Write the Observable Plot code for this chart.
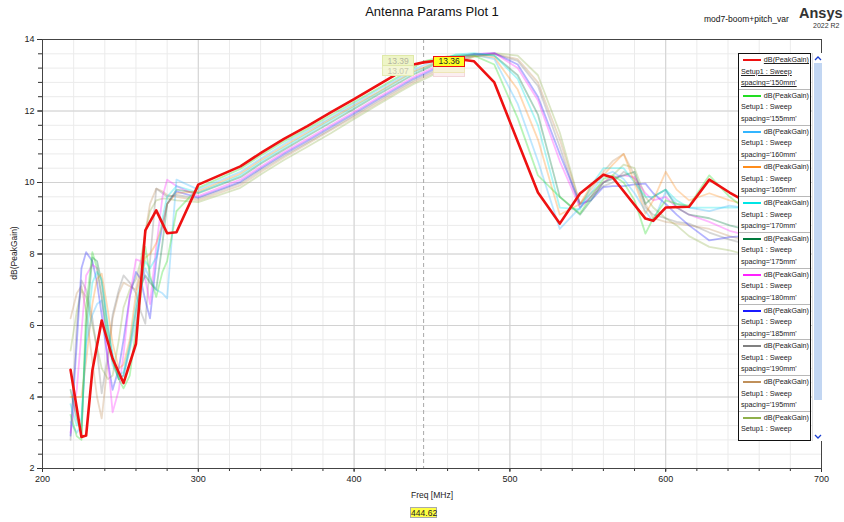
<!DOCTYPE html>
<html>
<head>
<meta charset="utf-8">
<script src="https://cdn.jsdelivr.net/npm/d3@7"></script>
<script src="https://cdn.jsdelivr.net/npm/@observablehq/plot@0.6"></script>
<style>
  html, body { margin: 0; padding: 0; background: #fff; }
  body { width: 844px; height: 522px; overflow: hidden; font-family: Arial, "Liberation Sans", sans-serif; }
  #wrap { position: relative; width: 844px; height: 522px; }
  .abs { position: absolute; white-space: nowrap; }
  #legend { position: absolute; left: 738px; top: 53px; width: 73px; height: 388px; border: 1.5px solid #111; background: #fff; overflow: hidden; box-sizing: border-box; }
  .entry { position: relative; height: 35.8px; border-bottom: 1px solid #b8b8b8; box-sizing: border-box; font-size: 7.2px; color: #222; white-space: nowrap; }
  .entry .swatch { position: absolute; left: 4px; top: 5px; width: 18px; height: 0; border-top: 2px solid; }
  .entry .l1 { position: absolute; right: 1px; top: 1px; }
  .entry .l2 { position: absolute; left: 2px; top: 12.5px; }
  .entry .l3 { position: absolute; left: 2px; top: 24px; }
  .entry.sel .l1, .entry.sel .l2, .entry.sel .l3 { text-decoration: underline; }
  .entry.last { border-bottom: none; }
  #scroll { position: absolute; left: 812px; top: 53px; width: 10px; height: 388px; background: #fff; border-left: 1px solid #ddd; box-sizing: border-box; }
  #thumb { position: absolute; left: 1px; top: 10px; width: 8px; height: 337px; background: #c2d6f2; }
  .mk { position: absolute; font-size: 8.5px; line-height: 10px; text-align: center; box-sizing: border-box; }
</style>
</head>
<body>
<div id="wrap"></div>
<script>
// Frequency points of the sweep (MHz)
const freqs = [218, 222, 225, 228, 232, 235, 238, 242, 245, 249,
               252, 256, 260, 263, 266, 269, 273, 277, 280, 286,
               300, 327, 341, 355, 370, 385, 400, 415, 430, 438,
               444.62, 455, 465, 477, 490, 505, 518, 532, 545, 552,
               560, 566, 573, 580, 587, 592, 600, 607, 615, 628,
               641, 650];

// dB(PeakGain) per boom spacing (null = no sample for that trace)
const gain150 = [4.76, null, 2.88, 2.92, 4.74, null, 6.14, null, 5.07, null,
                 4.39, null, 5.49, null, 8.66, null, 9.22, null, 8.58, 8.61,
                 9.94, 10.45, 10.85, 11.22, 11.58, 11.96, 12.33, 12.72, 13.1, 13.3,
                 13.36, 13.42, 13.46, 13.39, 12.8, null, 9.72, 8.85, 9.69, null,
                 10.22, 10.14, null, null, 8.99, 8.93, 9.3, null, 9.32, 10.08,
                 9.72, 9.5];
const gain155 = [3.5, 2.9, 2.8, 6.5, 8.05, 7.6, 6.8, 5.6, 5.0, 4.5,
                 4.24, 4.6, 5.9, 6.8, 8.2, 7.4, 6.8, 7.5, 7.8, 9.2,
                 9.85, 10.38, 10.78, 11.15, 11.5, 11.88, 12.25, 12.62, 13.0, 13.2,
                 13.39, 13.5, 13.55, 13.55, 13.3, 11.8, 10.2, 9.6, 9.13, 9.6,
                 10.1, 10.2, 10.0, 9.5, 8.57, 9.0, 9.5, 9.4, 9.35, 10.2,
                 9.6, 9.3];
const gain160 = [3.3, 3.0, 3.2, 5.5, 6.3, 6.6, 6.7, 5.6, 4.9, 4.5,
                 4.6, 5.3, 6.1, 7.0, 7.6, 7.3, 7.0, 6.9, 6.76, 10.08,
                 9.8, 10.3, 10.7, 11.08, 11.45, 11.82, 12.2, 12.58, 12.95, 13.15,
                 13.28, 13.45, 13.55, 13.58, 13.45, 12.2, 10.6, 8.7, 9.3, 9.7,
                 10.2, 10.3, 10.1, 9.7, 9.2, 8.9, 9.75, 9.4, 9.3, 9.2,
                 9.35, 9.3];
const gain165 = [4.0, 4.0, 4.0, 5.0, 6.6, 7.3, 7.45, 6.4, 5.5, 4.8,
                 4.9, 5.6, 6.9, 7.4, 7.9, 8.0, 8.3, 8.8, 9.4, 9.7,
                 9.75, 10.25, 10.65, 11.02, 11.4, 11.78, 12.15, 12.52, 12.9, 13.1,
                 13.22, 13.4, 13.5, 13.55, 13.5, 12.6, 11.2, 9.1, 9.4, 9.9,
                 10.2, 10.5, 10.8, 10.0, 9.13, 9.5, 10.3, 9.8, 9.5, 9.7,
                 9.5, 9.4];
const gain170 = [3.8, 3.2, 3.4, 5.6, 7.2, 7.5, 7.3, 6.0, 5.2, 4.6,
                 4.7, 5.5, 6.6, 7.3, 7.8, 7.6, 7.9, 9.0, 9.6, 9.9,
                 9.72, 10.2, 10.6, 10.98, 11.36, 11.74, 12.12, 12.5, 12.88, 13.08,
                 13.2, 13.42, 13.58, 13.62, 13.55, 12.9, 11.6, 9.3, 9.25, 9.9,
                 10.4, 10.4, 10.4, 10.0, 9.6, 9.6, 9.8, 9.5, 9.3, 9.3,
                 9.3, 9.3];
const gain175 = [4.2, 3.4, 3.0, 6.0, 7.9, 7.8, 7.2, 5.9, 5.1, 4.5,
                 4.6, 5.4, 6.4, 7.1, 7.4, 7.2, 7.0, 8.3, 9.4, 9.8,
                 9.7, 10.15, 10.55, 10.92, 11.3, 11.68, 12.06, 12.45, 12.82, 13.02,
                 13.15, 13.38, 13.52, 13.6, 13.55, 13.0, 11.9, 9.6, 9.1, 9.5,
                 10.0, 10.1, 10.2, 10.3, 9.4, 9.6, 9.8, 9.3, 9.1, 9.0,
                 8.8, 8.7];
const gain180 = [3.0, 4.2, 5.8, 7.4, 7.7, 7.6, 6.8, 5.0, 3.57, 4.2,
                 5.2, 6.8, 7.85, 7.8, 7.3, 6.6, 8.2, 9.6, 10.08, 9.9,
                 9.62, 10.08, 10.47, 10.85, 11.22, 11.6, 11.98, 12.37, 12.75, 12.95,
                 13.08, 13.3, 13.48, 13.6, 13.62, 13.2, 12.3, 10.6, 9.3, 9.6,
                 10.0, 10.15, 10.2, 10.15, 9.7, 9.5, 9.6, 9.3, 9.1, 8.9,
                 8.65, 8.55];
const gain185 = [2.92, 5.5, 7.6, 8.05, 7.8, 7.2, 6.3, 5.0, 4.2, 4.8,
                 5.6, 6.8, 7.5, 7.3, 6.7, 6.2, 7.8, 8.8, 9.4, 9.75,
                 9.58, 10.02, 10.42, 10.8, 11.17, 11.55, 11.93, 12.32, 12.7, 12.9,
                 13.03, 13.25, 13.45, 13.58, 13.62, 13.3, 12.4, 10.8, 9.4, 9.5,
                 9.87, 9.9, 9.9, 9.95, 9.97, 9.7, 9.4, 9.1, 8.8, 8.38,
                 8.47, 8.5];
const gain190 = [2.8, 6.0, 7.26, 7.0, 6.2, 5.3, 4.1, 5.2, 6.3, 7.0,
                 7.4, 7.2, 6.9, 6.4, 6.05, 7.8, 9.83, 9.7, 9.6, 9.65,
                 9.55, 9.98, 10.38, 10.75, 11.12, 11.5, 11.88, 12.27, 12.65, 12.85,
                 12.98, 13.2, 13.4, 13.55, 13.6, 13.4, 12.7, 11.0, 9.3, 9.6,
                 9.9, 10.0, 10.3, 10.1, 9.3, 9.1, 9.0, 8.9, 8.85, 8.6,
                 8.4, 8.3];
const gain195 = [6.2, 6.9, 7.1, 6.4, 5.0, 4.0, 3.4, 5.0, 6.2, 6.9,
                 7.2, 7.1, 7.0, 7.6, 8.6, 9.4, 9.83, 9.75, 9.65, 9.6,
                 9.5, 9.92, 10.32, 10.7, 11.08, 11.46, 11.84, 12.22, 12.6, 12.8,
                 12.93, 13.15, 13.38, 13.52, 13.6, 13.45, 12.8, 11.2, 9.4, 9.8,
                 10.3, 10.6, 10.8, 10.2, 9.4, 9.0, 8.9, 8.85, 8.8, 8.7,
                 8.5, 8.4];
const gain200 = [5.3, 6.4, 7.0, 6.8, 6.0, 5.4, 4.8, 4.5, 4.6, 5.6,
                 6.5, 7.0, 7.3, 7.8, 8.6, 9.2, 9.5, 9.55, 9.55, 9.5,
                 9.45, 9.85, 10.25, 10.63, 11.0, 11.38, 11.78, 12.17, 12.55, 12.75,
                 12.88, 13.1, 13.35, 13.52, 13.62, 13.55, 13.0, 11.4, 9.4, 9.7,
                 10.0, 10.2, 10.5, 10.4, 9.6, 9.3, 9.0, 8.8, 8.5, 8.2,
                 8.1, 8.0];

const spacings = ["150mm", "155mm", "160mm", "165mm", "170mm", "175mm",
                  "180mm", "185mm", "190mm", "195mm", "200mm"];
const colors = ["#ee1111", "#22dd22", "#33b5ff", "#ff8c1a", "#00e5e5", "#007a3d",
                "#ff22ff", "#1a1aff", "#808080", "#c0905a", "#8fb04a"];
const gains = [gain150, gain155, gain160, gain165, gain170, gain175,
               gain180, gain185, gain190, gain195, gain200];

// Axis ticks
const xTicks = [200, 300, 400, 500, 600, 700];
const yTicks = [2, 4, 6, 8, 10, 12, 14];
const xMinor = d3.range(200, 701, 20);
const yMinor = d3.range(2, 14.01, 0.4).map(v => +v.toFixed(2));

// Marker
const markerFreq = 444.62;
const markerRed = 13.36;
const markerOther = 13.39;

function rowsFor(i) {
  return freqs.map((f, k) => ({freq: f, gain: gains[i][k]})).filter(d => d.gain != null);
}

const traceMarks = [];
for (let i = gains.length - 1; i >= 1; i--) {
  traceMarks.push(Plot.line(rowsFor(i), {
    x: "freq", y: "gain", stroke: colors[i], strokeWidth: 1.8, strokeOpacity: 0.32
  }));
}
traceMarks.push(Plot.line(rowsFor(0), {
  x: "freq", y: "gain", stroke: colors[0], strokeWidth: 2.6
}));

const chart = Plot.plot({
  width: 844,
  height: 522,
  marginLeft: 42,
  marginRight: 23,
  marginTop: 39,
  marginBottom: 54,
  x: {domain: [200, 700]},
  y: {domain: [2, 14]},
  style: {fontFamily: "Arial, 'Liberation Sans', sans-serif", fontSize: "9px", color: "#222", background: "transparent"},
  marks: [
    Plot.gridX(xMinor, {stroke: "#ebebeb", strokeOpacity: 1}),
    Plot.gridY(yMinor, {stroke: "#ebebeb", strokeOpacity: 1}),
    Plot.gridX(xTicks, {stroke: "#d2d2d2", strokeOpacity: 1}),
    Plot.gridY(yTicks, {stroke: "#d2d2d2", strokeOpacity: 1}),
    Plot.axisX(xMinor, {tickSize: 3, tickFormat: () => "", label: null, stroke: "#333"}),
    Plot.axisY(yMinor, {tickSize: 4, tickFormat: () => "", label: null, stroke: "#333"}),
    Plot.axisX(xTicks, {tickSize: 4, tickPadding: 3, label: null, stroke: "#333"}),
    Plot.axisY(yTicks, {tickSize: 5, tickPadding: 3, label: null, stroke: "#333"}),
    Plot.ruleX([markerFreq], {stroke: "#a8a8a8", strokeDasharray: "4,3", strokeWidth: 1}),
    ...traceMarks,
    Plot.frame({stroke: "#444", strokeWidth: 1})
  ]
});

const wrap = document.getElementById("wrap");
chart.style.position = "absolute";
chart.style.left = "0px";
chart.style.top = "0px";
wrap.appendChild(chart);

function addText(txt, css) {
  const d = document.createElement("div");
  d.className = "abs";
  d.textContent = txt;
  Object.assign(d.style, css);
  wrap.appendChild(d);
  return d;
}

// Titles and axis labels
addText("Antenna Params Plot 1", {left: "0px", width: "864px", textAlign: "center", top: "4px", fontSize: "13px", color: "#111"});
addText("mod7-boom+pitch_var", {left: "704px", top: "14px", fontSize: "8.5px", color: "#111"});
addText("Ansys", {left: "799px", top: "5px", fontSize: "14.5px", fontWeight: "bold", color: "#333"});
addText("2022 R2", {left: "813px", top: "22px", fontSize: "7px", color: "#333"});
addText("Freq [MHz]", {left: "0px", width: "864px", textAlign: "center", top: "490px", fontSize: "8.5px", color: "#222"});
addText("dB(PeakGain)", {left: "14px", top: "253px", fontSize: "8.5px", color: "#222", transform: "translate(-50%, -50%) rotate(-90deg)"});

// Marker labels positioned through the plot scales
const sx = chart.scale("x"), sy = chart.scale("y");
const mx = sx.apply(markerFreq);
const myRed = sy.apply(markerRed);

function box(txt, css) {
  const d = document.createElement("div");
  d.className = "mk";
  d.textContent = txt;
  Object.assign(d.style, css);
  wrap.appendChild(d);
  return d;
}
// stacked markers of the faded traces
box("", {left: (mx + 10) + "px", top: (myRed + 5) + "px", width: "32px", height: "10px", background: "#fbeef0", border: "1px solid #f2d6da"});
box("", {left: (mx + 10) + "px", top: (myRed + 1) + "px", width: "32px", height: "10px", background: "#f6f2d8", border: "1px solid #eee6b8"});
box("13.07", {left: (mx - 41) + "px", top: (myRed + 3) + "px", width: "32px", height: "11px", background: "#f4f7d6", border: "1px solid #e4ecb4", color: "#c8c8b0"});
box(markerOther.toFixed(2), {left: (mx - 41) + "px", top: (myRed - 7) + "px", width: "32px", height: "11px", background: "#eef5c6", border: "1px solid #dfe9a8", color: "#b4b4a0"});
box(markerRed.toFixed(2), {left: (mx + 10) + "px", top: (myRed - 6) + "px", width: "32px", height: "11px", background: "#ffff22", border: "1.5px solid #ee1111", color: "#222", lineHeight: "8.5px"});
// frequency readout under the axis
box(String(markerFreq), {left: (mx - 13) + "px", top: "507px", width: "27px", height: "11px", background: "#ffff44", border: "1px solid #aaa", color: "#222"});

// Legend (the list is scrolled so the last entry shows only two lines)
const legend = document.createElement("div");
legend.id = "legend";
spacings.forEach((s, i) => {
  const last = i === spacings.length - 1;
  const e = document.createElement("div");
  e.className = "entry" + (i === 0 ? " sel" : "") + (last ? " last" : "");
  e.innerHTML = `<div class="swatch" style="border-color:${colors[i]}"></div>` +
    `<div class="l1">dB(PeakGain)</div><div class="l2">Setup1 : Sweep</div>` +
    (last ? "" : `<div class="l3">spacing='${s}'</div>`);
  legend.appendChild(e);
});
wrap.appendChild(legend);

const scroll = document.createElement("div");
scroll.id = "scroll";
scroll.innerHTML = `<div id="thumb"></div>
<svg width="10" height="388" style="position:absolute;left:0;top:0">
  <polyline points="2,7 5,4 8,7" fill="none" stroke="#1a3fd0" stroke-width="1.3"/>
  <polyline points="2,382 5,385 8,382" fill="none" stroke="#1a3fd0" stroke-width="1.3"/>
</svg>`;
wrap.appendChild(scroll);
</script>
</body>
</html>
